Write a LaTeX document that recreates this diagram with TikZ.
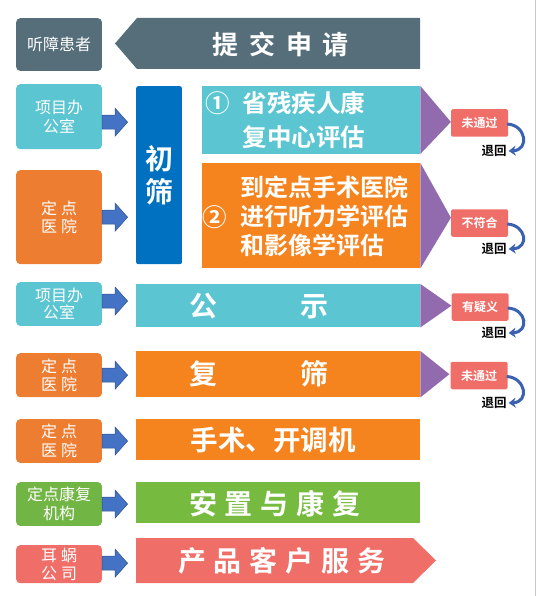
\documentclass[tikz,border=0pt]{standalone}
\usepackage{fontspec}
\setmainfont{Noto Sans CJK SC}[BoldFont={Noto Sans CJK SC Bold}]
\usetikzlibrary{arrows.meta,calc}
\definecolor{cslate}{HTML}{566E7A}
\definecolor{cteal}{HTML}{5BC5D2}
\definecolor{cblue}{HTML}{0070C0}
\definecolor{corange}{HTML}{F5841F}
\definecolor{corangeL}{HTML}{ED7D31}
\definecolor{cpurple}{HTML}{926BAE}
\definecolor{csalmon}{HTML}{F06E68}
\definecolor{cgreen}{HTML}{76BB40}
\definecolor{cgreenL}{HTML}{71B544}
\definecolor{carrow}{HTML}{4472C4}
\definecolor{carrowD}{HTML}{2F528F}
\definecolor{ccurve}{HTML}{3A62B0}
\tikzset{
  leftbox/.style={rounded corners=4pt, inner sep=0pt, anchor=north west,
    minimum width=85.7pt, text=white, align=center,
    font=\fontsize{16}{18.5}\selectfont},
  mainbox/.style={inner sep=0pt, anchor=north west},
  bigtext/.style={text=white, font=\bfseries\fontsize{28}{28}\selectfont},
  midtext/.style={text=white, align=center, font=\bfseries\fontsize{24.5}{34}\selectfont},
  barrow/.style={fill=carrow, draw=carrowD, line width=0.5pt},
  tri/.style={fill=cpurple},
  tag/.style={fill=csalmon, text=white, font=\bfseries\fontsize{12}{12}\selectfont,
    minimum width=57pt, minimum height=27.5pt, inner sep=0pt, rounded corners=1.5pt},
  back/.style={text=black, font=\bfseries\fontsize{12.5}{12.5}\selectfont, inner sep=1pt},
  curv/.style={draw=ccurve, line width=3pt, -{Stealth[length=7pt,width=10pt]}}
}
\newcommand\blockarrow[2]{%
  \filldraw[barrow] ($(#1.east)+(0,#2-7)$) -- ++(13,0) -- ++(0,-7) -- ++(12.5,14)
    -- ++(-12.5,14) -- ++(0,-7) -- ++(-13,0) -- cycle;}
\begin{document}
\begin{tikzpicture}[x=1pt,y=-1pt]
\useasboundingbox (0,0) rectangle (537,596);
\draw[black!22, line width=1pt] (535,0) -- (535,596);

% left boxes
\node[leftbox, fill=cslate, minimum height=52.7pt] (p0) at (16,18) {听障患者};
\node[leftbox, fill=cteal, minimum height=65pt] (p1) at (16,84) {项目办\\公室};
\node[leftbox, fill=corangeL, minimum height=94pt] (p2) at (16,170) {定\hspace{4pt}点\\医\hspace{4pt}院};
\node[leftbox, fill=cteal, minimum height=43.7pt, font=\fontsize{16}{17}\selectfont] (p3) at (16,282) {项目办\\公室};
\node[leftbox, fill=corangeL, minimum height=44pt] (p4) at (16,353) {定\hspace{4pt}点\\医\hspace{4pt}院};
\node[leftbox, fill=corangeL, minimum height=43.7pt] (p5) at (16,419) {定\hspace{4pt}点\\医\hspace{4pt}院};
\node[leftbox, fill=cgreenL, minimum height=43.7pt] (p6) at (16,482) {定点康复\\机构};
\node[leftbox, fill=csalmon, minimum height=38pt] (p7) at (16,545) {耳\hspace{4pt}蜗\\公\hspace{4pt}司};

% row 1 chevron
\fill[cslate] (420,18) -- (137,18) -- (115,43.5) -- (137,69) -- (420,69) -- cycle;
\node[bigtext, font=\bfseries\fontsize{26}{26}\selectfont] (m0) at (280.5,44)
  {提\hspace{11pt}交\hspace{11pt}申\hspace{11pt}请};

% 初筛
\node[mainbox, fill=cblue, rounded corners=2pt, minimum width=45.7pt, minimum height=178pt] (cs) at (136,86) {};
\node[text=white, align=center, font=\bfseries\fontsize{28}{32.5}\selectfont] (cst) at (cs.center) [yshift=0pt] {初\\筛};

% ① box
\node[mainbox, fill=cteal, minimum width=218pt, minimum height=67.5pt] (m1) at (202,86) {};
\fill[tri] (m1.north east) -- ($(m1.east)+(30.5,2)$) -- (m1.south east) -- cycle;
\node[midtext] (m1n) at (218,103) {①};
\node[midtext] (m1t) at (304,120) {省残疾人康\\复中心评估};

% ② box
\node[mainbox, fill=corange, minimum width=218pt, minimum height=105pt] (m2) at (202,163) {};
\fill[tri] (m2.north east) -- ($(m2.east)+(30.5,2)$) -- (m2.south east) -- cycle;
\node[midtext] (m2n) at (215,217) {②};
\node[midtext, align=left, anchor=west, font=\bfseries\fontsize{24}{29}\selectfont, inner sep=0pt] (m2t) at (240,216)
  {到定点手术医院\\进行听力学评估\\和影像学评估};

% 公示
\node[mainbox, fill=cteal, minimum width=284pt, minimum height=43pt] (m3) at (136,284) {};
\fill[tri] (m3.north east) -- ($(m3.east)+(31,0)$) -- (m3.south east) -- cycle;
\node[bigtext] (m3t) at (259,306) {公\hspace{83pt}示};

% 复筛
\node[mainbox, fill=corange, minimum width=284pt, minimum height=46pt] (m4) at (136,351) {};
\fill[tri] (m4.north east) -- ($(m4.east)+(29,0)$) -- (m4.south east) -- cycle;
\node[bigtext] (m4t) at (259,374) {复\hspace{83pt}筛};

% 手术
\node[mainbox, fill=corange, minimum width=284pt, minimum height=41pt] (m5) at (136,419) {};
\node[bigtext, font=\bfseries\fontsize{27.5}{27.5}\selectfont] (m5t) at (273,440) {手术、开调机};

% 安置与康复
\node[mainbox, fill=cgreen, minimum width=284pt, minimum height=41pt] (m6) at (136,482) {};
\node[bigtext] (m6t) at (275,504) {安\hspace{8pt}置\hspace{8pt}与\hspace{8pt}康\hspace{8pt}复};

% 产品客户服务
\fill[csalmon] (136,538) -- (413,538) -- (436,560.5) -- (413,583) -- (136,583) -- cycle;
\node[bigtext] (m7t) at (282,561) {产\hspace{8pt}品\hspace{8pt}客\hspace{8pt}户\hspace{8pt}服\hspace{8pt}务};

% block arrows
\blockarrow{p1}{5.5}
\blockarrow{p2}{0}
\blockarrow{p3}{-3}
\blockarrow{p4}{0}
\blockarrow{p5}{0}
\blockarrow{p6}{0}
\blockarrow{p7}{-1}

% tags and returns
\node[tag] (g1) at (479.5,123) {未通过};
\node[back] (r1) at (494,151) {退回};
\node[tag] (g2) at (479.5,223) {不符合};
\node[back] (r2) at (494,249) {退回};
\node[tag] (g3) at (480,307) {有疑义};
\node[back] (r3) at (494,333) {退回};
\node[tag] (g4) at (479,375.5) {未通过};
\node[back] (r4) at (494,403) {退回};

\foreach \g/\r in {g1/r1,g2/r2,g3/r3,g4/r4}{
  \draw[curv] ($(\g.east)+(-1,1)$) .. controls ($(\g.east)+(18,2)$) and ($(\r.east)+(22,-1)$) .. ($(\r.east)+(1,0)$);
}
\end{tikzpicture}
\end{document}
